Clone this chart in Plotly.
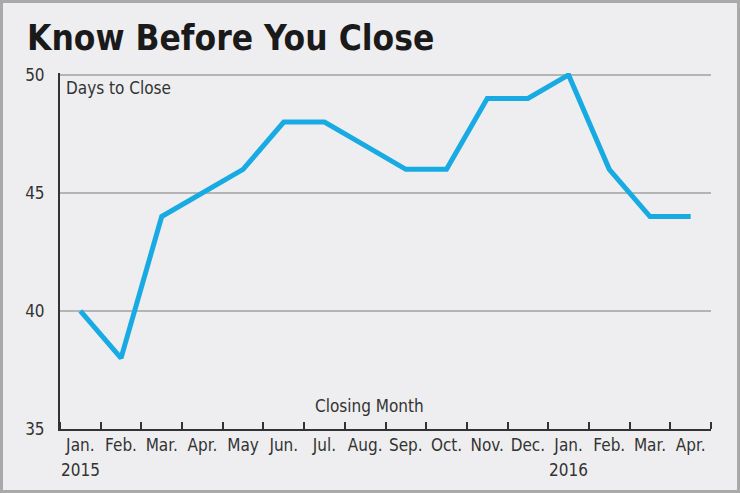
import plotly.graph_objects as go

months = ["Jan.", "Feb.", "Mar.", "Apr.", "May", "Jun.", "Jul.", "Aug.",
          "Sep.", "Oct.", "Nov.", "Dec.", "Jan.", "Feb.", "Mar.", "Apr."]
year_labels = ["2015", "", "", "", "", "", "", "", "", "", "", "", "2016", "", "", ""]
days = [40, 38, 44, 45, 46, 48, 48, 47, 46, 46, 49, 49, 50, 46, 44, 44]
y_ticks = [35, 40, 45, 50]

W, H = 740, 493
ML, MR, MT, MB = 60, 29, 73, 64
PW, PH = W - ML - MR, H - MT - MB

FONT = "DejaVu Sans Condensed, Liberation Sans Narrow, sans-serif"
BG = "#eeeef0"
TXT = "#333333"

x = list(range(len(months)))

fig = go.Figure()
fig.add_trace(go.Scatter(
    x=x, y=days, mode="lines",
    line=dict(color="#18abe3", width=5),
    hoverinfo="skip", cliponaxis=False,
))

fig.update_layout(
    width=W, height=H,
    margin=dict(l=ML, r=MR, t=MT, b=MB, autoexpand=False),
    paper_bgcolor=BG, plot_bgcolor=BG,
    showlegend=False,
    font=dict(family=FONT, color=TXT, size=17),
    title=dict(text="<b>Know Before You Close</b>", x=27 / W, xanchor="left",
               xref="container", yref="container", y=1 - 38 / H, yanchor="middle",
               font=dict(family=FONT, size=35, color="#1a1a1a")),
)

fig.update_xaxes(
    range=[-0.5, len(months) - 0.5], automargin=False,
    tickmode="array", tickvals=x, ticktext=months, tickangle=0,
    ticks="", showgrid=False, zeroline=False,
    showline=True, linecolor=TXT, linewidth=2,
    tickfont=dict(family=FONT, size=17, color=TXT),
    minor=dict(tickmode="array", tickvals=[i - 0.5 for i in range(len(months) + 1)],
               ticks="inside", ticklen=7, tickwidth=1.5, tickcolor=TXT, showgrid=False),
)
fig.update_yaxes(
    range=[35, 50.08], automargin=False, tickmode="array", tickvals=y_ticks,
    showgrid=True, gridcolor="#b4b4b4", gridwidth=1.5,
    zeroline=False, showline=True, linecolor=TXT, linewidth=2,
    ticks="", ticklabelstandoff=10,
    tickfont=dict(family=FONT, size=17, color=TXT),
)

for xi, yl in zip(x, year_labels):
    if yl:
        fig.add_annotation(text=yl, xref="x", yref="paper", x=xi, y=0,
                           yshift=-(470 - (H - MB)), xanchor="center", yanchor="middle",
                           showarrow=False, font=dict(family=FONT, size=17, color=TXT))

fig.add_annotation(text="Days to Close", xref="paper", yref="paper",
                   x=(64 - ML) / PW, y=(H - MB - 88) / PH, xanchor="left", yanchor="middle",
                   showarrow=False, font=dict(family=FONT, size=17, color=TXT))
fig.add_annotation(text="Closing Month", xref="paper", yref="paper",
                   x=(369 - ML) / PW, y=(H - MB - 406) / PH, xanchor="center", yanchor="middle",
                   showarrow=False, font=dict(family=FONT, size=17, color=TXT))

# outer frame
fig.add_shape(type="rect", xref="paper", yref="paper",
              x0=(1.5 - ML) / PW, x1=(W - 1.5 - ML) / PW,
              y0=(H - MB - (H - 1.5)) / PH, y1=(H - MB - 1.5) / PH,
              line=dict(color="#a9a9a9", width=3), fillcolor="rgba(0,0,0,0)", layer="above")

fig.write_html("out.html", config={"displayModeBar": False},
               post_script="document.body.style.margin='0';document.body.style.overflow='hidden';")
